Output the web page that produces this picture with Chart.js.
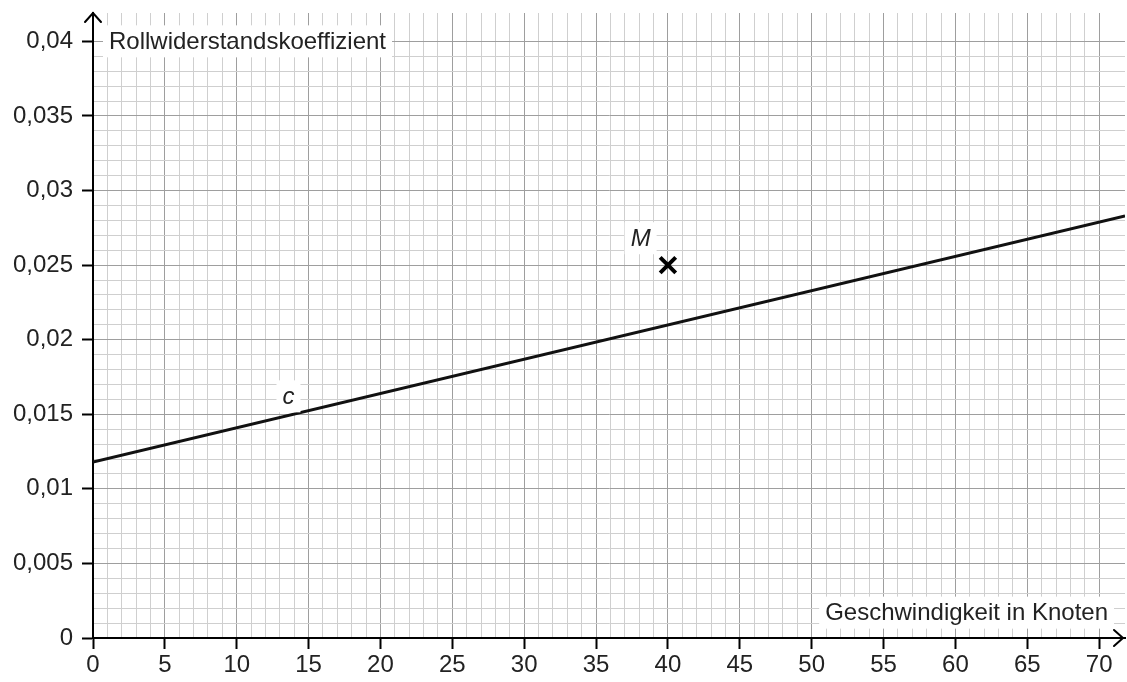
<!DOCTYPE html>
<html>
<head>
<meta charset="utf-8">
<script src="https://cdn.jsdelivr.net/npm/chart.js@4.4.1/dist/chart.umd.min.js"></script>
<style>
  html, body { margin: 0; padding: 0; background: #fff; }
  #wrap { width: 1127px; height: 682px; }
</style>
</head>
<body>
<div id="wrap"><canvas id="chart" width="1127" height="682"></canvas></div>
<script>
// Daten
const lineX = [0, 71.8];
const lineY = [0.0118, 0.0283];
const pointM = [40, 0.025];
const xTitle = 'Geschwindigkeit in Knoten';
const yTitle = 'Rollwiderstandskoeffizient';
const xMax = 71.8;
const yMax = 0.0419;

const FONT = '"Liberation Sans", Arial, Helvetica, sans-serif';
const TEXT = '#222';
const MINOR = '#cfcfcf';
const MAJOR = '#9e9e9e';

function isMajorX(v) { return Math.abs(v / 5 - Math.round(v / 5)) < 1e-6; }
function isMajorY(v) { return Math.round(v * 1000) % 5 === 0; }

// Beschriftungen mit weißem Hintergrund + Pfeile an den Achsen
const extras = {
  id: 'extras',
  afterDatasetsDraw(chart) {
    const ctx = chart.ctx;
    const a = chart.chartArea;
    const xs = chart.scales.x, ys = chart.scales.y;

    function boxText(txt, x, y, align, font) {
      ctx.save();
      ctx.font = font;
      const w = ctx.measureText(txt).width;
      const left = align === 'right' ? x - w : (align === 'center' ? x - w / 2 : x);
      ctx.fillStyle = '#fff';
      ctx.fillRect(left - 6, y - 16, w + 12, 32);
      ctx.fillStyle = TEXT;
      ctx.textBaseline = 'middle';
      ctx.textAlign = 'left';
      ctx.fillText(txt, left, y + 1);
      ctx.restore();
    }

    boxText(yTitle, a.left + 16, ys.getPixelForValue(0.04), 'left', '24px ' + FONT);
    boxText(xTitle, a.right - 17, ys.getPixelForValue(0.0017), 'right', '24px ' + FONT);
    boxText('M', xs.getPixelForValue(38.1), ys.getPixelForValue(0.0268), 'center', 'italic 24px ' + FONT);
    boxText('c', xs.getPixelForValue(13.6), ys.getPixelForValue(0.0162), 'center', 'italic 24px ' + FONT);

    // Pfeilspitzen
    ctx.save();
    ctx.strokeStyle = '#000';
    ctx.lineWidth = 2;
    ctx.lineCap = 'round';
    const x0 = xs.getPixelForValue(0);
    const y0 = ys.getPixelForValue(0);
    ctx.beginPath();
    ctx.moveTo(x0 - 8, a.top + 9);
    ctx.lineTo(x0, a.top);
    ctx.lineTo(x0 + 8, a.top + 9);
    ctx.stroke();
    const tip = a.right - 2;
    ctx.beginPath();
    ctx.moveTo(tip - 9, y0 - 8);
    ctx.lineTo(tip, y0);
    ctx.lineTo(tip - 9, y0 + 8);
    ctx.stroke();
    ctx.beginPath();
    ctx.moveTo(x0, y0);
    ctx.lineTo(tip, y0);
    ctx.stroke();
    ctx.restore();
  }
};

new Chart(document.getElementById('chart'), {
  type: 'scatter',
  data: {
    datasets: [
      {
        label: 'c',
        data: lineX.map((x, i) => ({ x: x, y: lineY[i] })),
        showLine: true,
        borderColor: '#111',
        borderWidth: 3,
        pointRadius: 0,
        order: 2
      },
      {
        label: 'M',
        data: [{ x: pointM[0], y: pointM[1] }],
        pointStyle: 'crossRot',
        pointRadius: 11,
        borderColor: '#000',
        borderWidth: 4,
        order: 1
      }
    ]
  },
  options: {
    responsive: false,
    animation: false,
    layout: { autoPadding: false, padding: { top: 13, right: 2, left: 0, bottom: 0 } },
    plugins: {
      legend: { display: false },
      tooltip: { enabled: false }
    },
    scales: {
      x: {
        type: 'linear',
        min: 0,
        max: xMax,
        afterBuildTicks(scale) {
          scale.ticks = scale.ticks.filter(t => Math.abs(t.value - Math.round(t.value)) < 1e-6);
        },
        afterFit(scale) {
          scale.height = 44;
        },
        ticks: {
          stepSize: 1,
          autoSkip: false,
          maxRotation: 0,
          padding: 2,
          color: TEXT,
          font: { family: FONT, size: 24 },
          callback: v => isMajorX(v) ? String(Math.round(v)) : ''
        },
        grid: {
          color: c => isMajorX(c.tick.value) ? MAJOR : MINOR,
          lineWidth: 1,
          tickLength: 11,
          tickWidth: 2,
          tickColor: c => isMajorX(c.tick.value) ? '#000' : 'rgba(0,0,0,0)'
        },
        border: { display: true, color: '#000', width: 2 }
      },
      y: {
        type: 'linear',
        min: 0,
        max: yMax,
        afterBuildTicks(scale) {
          scale.ticks = scale.ticks.filter(t => Math.abs(t.value * 1000 - Math.round(t.value * 1000)) < 1e-6);
        },
        afterFit(scale) {
          scale.width = 93;
          scale.paddingTop = 0;
          scale.paddingBottom = 0;
        },
        ticks: {
          stepSize: 0.001,
          autoSkip: false,
          padding: 9,
          color: TEXT,
          font: { family: FONT, size: 24 },
          callback: v => isMajorY(v) ? String(Math.round(v * 1000) / 1000).replace('.', ',') : ''
        },
        grid: {
          color: c => isMajorY(c.tick.value) ? MAJOR : MINOR,
          lineWidth: 1,
          tickLength: 11,
          tickWidth: 2,
          tickColor: c => isMajorY(c.tick.value) ? '#000' : 'rgba(0,0,0,0)'
        },
        border: { display: true, color: '#000', width: 2 }
      }
    }
  },
  plugins: [extras]
});
</script>
</body>
</html>
